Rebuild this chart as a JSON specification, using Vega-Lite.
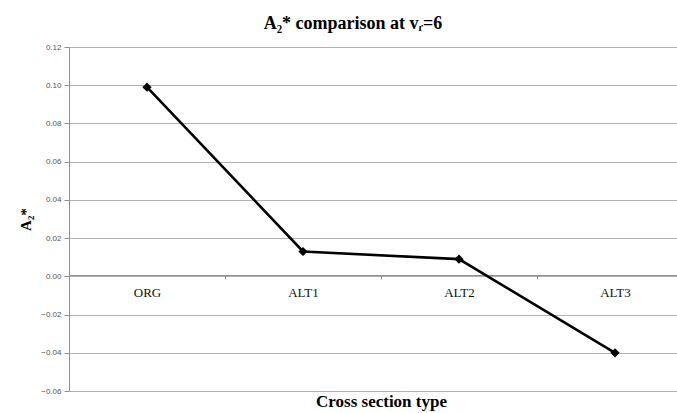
{
  "$schema": "https://vega.github.io/schema/vega-lite/v6.json",
  "autosize": "none",
  "width": 624,
  "height": 344,
  "padding": {"left": 69, "top": 47, "right": 0, "bottom": 22},
  "background": "white",
  "title": {
    "text": "A₂* comparison at vᵣ=6",
    "font": "Liberation Serif, Times New Roman, serif",
    "fontSize": 18,
    "fontWeight": "bold",
    "color": "#000000",
    "anchor": "middle",
    "dx": -28,
    "offset": 10
  },
  "data": {
    "values": [
      {"type": "ORG", "value": 0.099},
      {"type": "ALT1", "value": 0.013},
      {"type": "ALT2", "value": 0.009},
      {"type": "ALT3", "value": -0.040}
    ]
  },
  "config": {
    "view": {"stroke": null},
    "axis": {"gridColor": "#b0b0b0", "gridWidth": 1, "domainColor": "#909090", "tickColor": "#909090"}
  },
  "layer": [
    {
      "mark": {"type": "line", "color": "#000000", "strokeWidth": 2.6},
      "encoding": {
        "x": {
          "field": "type",
          "type": "nominal",
          "sort": null,
          "scale": {"type": "band", "paddingInner": 0, "paddingOuter": 0},
          "axis": {
            "title": "Cross section type",
            "titleFont": "Liberation Serif, Times New Roman, serif",
            "titleFontSize": 17,
            "titleFontWeight": "bold",
            "titleColor": "#000000",
            "titleY": 135,
            "titleBaseline": "bottom",
            "titleAnchor": "middle",
            "offset": -116,
            "labelAngle": 0,
            "labelFont": "Liberation Serif, Times New Roman, serif",
            "labelFontSize": 13,
            "labelColor": "#111111",
            "labelPadding": 7,
            "tickBand": "extent",
            "tickSize": 4,
            "grid": false
          }
        },
        "y": {
          "field": "value",
          "type": "quantitative",
          "scale": {"domain": [-0.06, 0.12], "nice": false, "zero": false},
          "axis": {
            "title": "A₂*",
            "titleFont": "Liberation Serif, Times New Roman, serif",
            "titleFontSize": 15,
            "titleFontWeight": "bold",
            "titleColor": "#000000",
            "titlePadding": 7,
            "values": [-0.06, -0.04, -0.02, 0, 0.02, 0.04, 0.06, 0.08, 0.1, 0.12],
            "tickCount": 10,
            "labelOverlap": false,
            "format": ".2f",
            "labelFont": "Liberation Sans",
            "labelFontSize": 8,
            "labelColor": "#555555",
            "tickSize": 5,
            "labelPadding": 3,
            "grid": true
          }
        }
      }
    },
    {
      "mark": {"type": "point", "shape": "diamond", "filled": true, "color": "#000000", "size": 85, "opacity": 1},
      "encoding": {
        "x": {"field": "type", "type": "nominal", "sort": null},
        "y": {"field": "value", "type": "quantitative"}
      }
    }
  ]
}
